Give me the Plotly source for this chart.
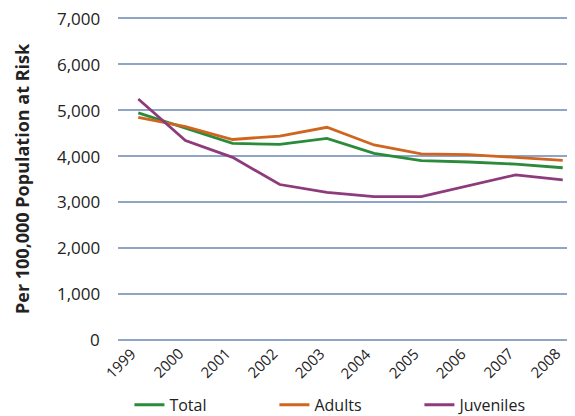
import plotly.graph_objects as go

# Data
years = [1999, 2000, 2001, 2002, 2003, 2004, 2005, 2006, 2007, 2008]
total = [4940, 4600, 4275, 4255, 4385, 4060, 3900, 3870, 3825, 3745]
adults = [4840, 4640, 4360, 4435, 4625, 4240, 4045, 4030, 3970, 3905]
juveniles = [5240, 4335, 3970, 3380, 3210, 3115, 3115, 3360, 3590, 3480]

y_ticks = [0, 1000, 2000, 3000, 4000, 5000, 6000, 7000]
y_title = 'Per 100,000 Population at Risk'

series = [
    ('Total', total, '#2a8b3b'),
    ('Adults', adults, '#d0651f'),
    ('Juveniles', juveniles, '#8e3b7c'),
]

fig = go.Figure()
for name, vals, color in series:
    fig.add_trace(go.Scatter(
        x=years, y=vals, name=name, mode='lines',
        line=dict(color=color, width=2.8)
    ))

# rotated year labels, anchored top-right at each tick
for yr in years:
    fig.add_annotation(
        x=yr, y=0, xref='x', yref='y', text=str(yr), showarrow=False,
        textangle=-45, xanchor='right', yanchor='top', yshift=-1, xshift=4,
        font=dict(size=15)
    )

# y tick labels as annotations so the top one is not dropped
for v in y_ticks:
    fig.add_annotation(
        x=0, y=v, xref='paper', yref='y', text=f'{v:,}', showarrow=False,
        xanchor='right', yanchor='middle', xshift=-16, font=dict(size=17)
    )

fig.add_annotation(
    x=-0.21, y=0.5, xref='paper', yref='paper', text=f'<b>{y_title}</b>',
    showarrow=False, textangle=-90, xanchor='center', yanchor='middle',
    font=dict(size=18)
)

# page body has an 8px margin, so the figure is sized to fit the window
fig.update_layout(
    width=567, height=408,
    margin=dict(l=110, r=0, t=9, b=75, autoexpand=False),
    paper_bgcolor='white', plot_bgcolor='white',
    font=dict(family='Open Sans, Noto Sans, sans-serif', size=15, color='#222222'),
    showlegend=True,
    legend=dict(
        orientation='h', x=0.025, y=-0.197, xanchor='left', yanchor='middle',
        entrywidth=100, entrywidthmode='pixels',
        font=dict(size=16), itemwidth=30
    ),
)

fig.update_xaxes(
    range=[1998.57, 2008.26],
    tickvals=years, showticklabels=False,
    showgrid=False, zeroline=False, showline=False, ticks=''
)

fig.update_yaxes(
    range=[-25, 7025], tickvals=y_ticks, showticklabels=False,
    showgrid=True, gridcolor='#8ea5c6', gridwidth=1.5,
    zeroline=False, showline=False, ticks=''
)

fig.write_html('out.html')
